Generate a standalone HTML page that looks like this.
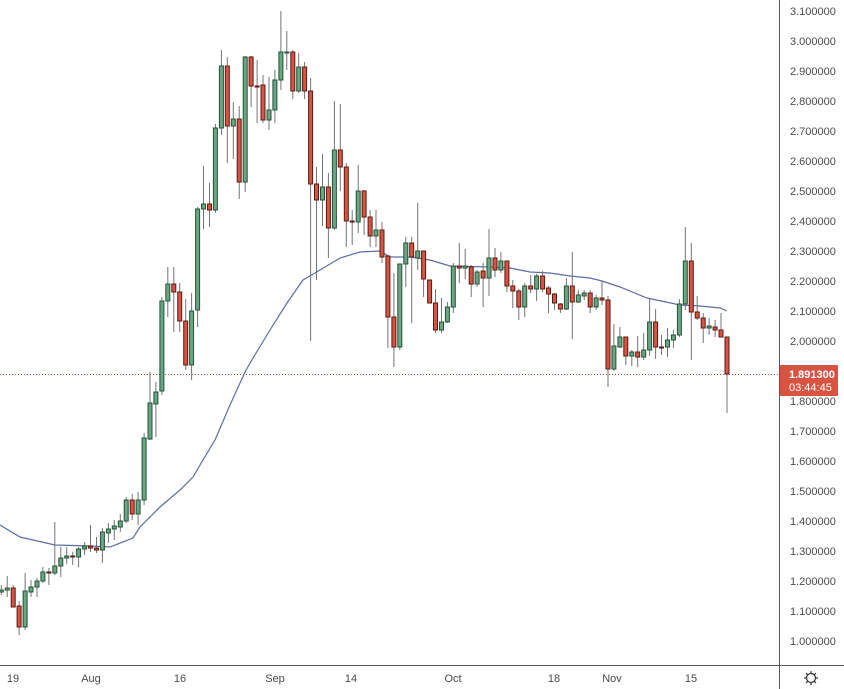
<!DOCTYPE html>
<html><head><meta charset="utf-8"><style>
html,body{margin:0;padding:0;background:#fff;}
svg{display:block;font-family:"Liberation Sans",sans-serif;}
</style></head><body>
<svg id="s" width="844" height="689" viewBox="0 0 844 689" xmlns="http://www.w3.org/2000/svg"></svg>
<script>
var D=[
['g',590,592,585,595],['g',588,590,576,597],['r',588,607,585,607],['r',606,627,601,635],['g',591,627,573,630],
['g',587,592,580,597],['g',581,587,578,597],['g',572,581,567,583],['r',572,573,568,585],['g',566,573,522,575],
['g',558,566,547,577],['g',556,558,547,564],['r',556,557,552,565],['g',549,557,547,567],['g',546,549,542,555],
['r',546,548,525,552],['r',548,550,537,553],['g',532,550,528,563],['g',529,533,523,543],['g',526,529,520,540],
['g',521,527,514,532],['g',500,521,497,523],['r',500,514,494,520],['g',500,514,492,525],['g',438,500,433,505],
['g',403,439,372,440],['g',392,404,382,437],['g',301,391,297,395],['g',284,301,267,317],['r',284,292,267,332],
['r',292,321,283,332],['r',321,365,299,370],['g',311,365,293,380],['g',209,310,207,327],['g',204,209,166,229],
['r',204,210,183,227],['g',128,210,124,213],['g',66,128,50,135],['r',66,126,57,163],['g',119,126,102,159],
['r',119,182,106,199],['g',57,182,56,192],['r',57,86,56,107],['r',86,87,60,123],['r',85,120,75,123],
['g',110,120,77,130],['g',80,110,70,123],['g',52,80,11,90],['g',52,53,31,70],['r',52,91,50,99],
['g',67,91,53,93],['r',67,91,62,99],['r',91,184,78,341],['r',184,200,167,280],['g',187,200,154,226],
['r',187,228,173,258],['g',150,228,101,230],['r',150,167,104,191],['r',167,221,163,247],['r',221,222,210,245],
['g',191,222,165,233],['r',191,217,190,235],['r',217,236,210,247],['g',230,236,210,247],['r',230,257,222,263],
['r',256,317,255,348],['r',317,347,273,367],['g',264,347,264,350],['g',243,264,237,287],['r',243,257,237,323],
['g',251,258,203,270],['r',251,279,251,297],['r',280,303,280,303],['r',303,330,289,333],['g',322,330,298,333],
['g',307,322,302,323],['g',266,307,263,313],['r',266,268,243,283],['g',266,268,249,279],['r',267,284,265,297],
['g',272,284,270,287],['r',271,278,263,307],['g',258,278,229,296],['r',258,270,248,277],['g',261,270,252,273],
['r',261,286,261,292],['r',286,291,280,308],['r',291,307,289,320],['g',286,307,283,317],['r',286,289,275,293],
['g',276,289,274,301],['r',276,289,271,292],['r',288,294,286,313],['r',294,303,293,310],['r',304,309,303,313],
['g',286,309,278,310],['r',286,302,252,339],['g',295,302,290,303],['g',293,296,290,300],['r',293,307,290,313],
['g',298,307,295,310],['r',298,300,281,305],['r',300,369,296,387],['g',346,369,324,371],['g',337,347,327,348],
['r',337,356,337,365],['g',352,356,350,366],['r',352,357,336,367],['g',350,357,333,360],['g',322,350,298,356],
['r',322,347,309,359],['r',347,348,335,355],['g',340,347,328,357],['g',335,340,330,348],['g',304,335,299,337],
['g',261,304,227,310],['r',261,312,243,360],['r',312,318,296,320],['r',318,328,313,343],['g',326,328,318,335],
['r',327,330,320,337],['r',330,337,313,337],['r',337,374,337,413]
];
var s='';
// grid-free background; price axis labels
var Y=function(v){return 11+(3.1-v)*300;};
for(var v=1.0;v<=3.1001;v+=0.1){var y=Y(v);s+='<text x="790" y="'+(y+4)+'" font-size="11" fill="#4a4a4a">'+v.toFixed(6)+'</text>';}
// MA
var ma=[[0,525],[20,537],[55,545],[90,546],[110,547],[133,538],[140,527],[160,507],[180,490],[193,477],[200,465],[215,440],[230,405],[245,372],[253,358],[270,330],[287,303],[303,280],[320,270],[340,258],[360,252],[380,251],[390,257],[410,257],[430,260],[450,266],[490,267],[510,268],[530,272],[550,273],[570,276],[590,278],[602,281],[620,287],[647,298],[680,305],[700,306],[720,308],[727,311]];
s+='<polyline fill="none" stroke="#5b6ea6" stroke-width="1.2" points="'+ma.map(function(p){return p.join(',')}).join(' ')+'"/>';
// current price line
s+='<line x1="0" y1="374.5" x2="779" y2="374.5" stroke="#c2463a" stroke-width="1" stroke-dasharray="1,2"/>';
for(var i=0;i<D.length;i++){
 var d=D[i],x=1.3+i*5.948,g=d[0]=='g';
 var fill=g?'#6ba583':'#d75442',st=g?'#225437':'#5b1a13';
 s+='<line x1="'+x.toFixed(1)+'" y1="'+d[3]+'" x2="'+x.toFixed(1)+'" y2="'+d[4]+'" stroke="#737375" stroke-width="1"/>';
 var h=Math.max(d[2]-d[1],1);
 s+='<rect x="'+(x-2).toFixed(1)+'" y="'+d[1]+'" width="4" height="'+h+'" fill="'+fill+'" stroke="'+st+'" stroke-width="1"/>';
}
// axes
s+='<rect x="779" y="0" width="65" height="689" fill="none"/>';
s+='<line x1="779.5" y1="0" x2="779.5" y2="689" stroke="#555" stroke-width="1"/>';
s+='<line x1="0" y1="665.5" x2="844" y2="665.5" stroke="#555" stroke-width="1"/>';
var xl=[['19',13],['Aug',91],['16',180],['Sep',275],['14',351],['Oct',453],['18',554],['Nov',612],['15',691]];
xl.forEach(function(a){s+='<text x="'+a[1]+'" y="682" font-size="11" fill="#4a4a4a" text-anchor="middle">'+a[0]+'</text>';});
// price tag
s+='<rect x="780" y="365" width="58" height="31" fill="#d75442" rx="1"/>';
s+='<text x="789" y="378" font-size="11" fill="#fff" font-weight="bold">1.891300</text>';
s+='<text x="789" y="391" font-size="11" fill="#fff">03:44:45</text>';
// gear icon
s+='<circle cx="811" cy="678" r="4.5" fill="none" stroke="#333" stroke-width="1.2"/>';
for(var k=0;k<8;k++){var a=k*Math.PI/4;s+='<line x1="'+(811+4.5*Math.cos(a))+'" y1="'+(678+4.5*Math.sin(a))+'" x2="'+(811+7*Math.cos(a))+'" y2="'+(678+7*Math.sin(a))+'" stroke="#333" stroke-width="1.2"/>';}
document.getElementById('s').innerHTML=s;
</script>
</body></html>
